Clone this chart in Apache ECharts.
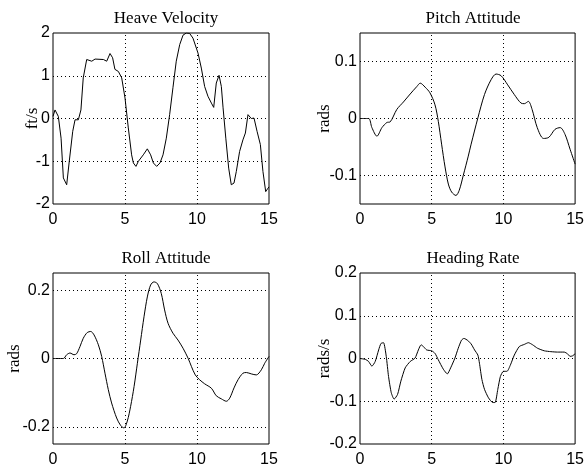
<!DOCTYPE html>
<html>
<head>
<meta charset="utf-8">
<script src="https://cdn.jsdelivr.net/npm/echarts@6/dist/echarts.min.js"></script>
<style>
  html, body { margin: 0; padding: 0; background: #fff; }
  #chart { width: 587px; height: 468px; }
</style>
</head>
<body>
<div id="chart"></div>
<script>
// time axis ticks (s)
const xTicks = [0, 5, 10, 15];

// Heave Velocity (ft/s)
const heaveT = [0, 0.14, 0.37, 0.56, 0.72, 0.95, 1.13, 1.37, 1.53, 1.76, 1.94, 2.1, 2.34, 2.69, 2.92, 3.5, 3.73, 3.96, 4.14, 4.3, 4.54, 4.77, 5.0, 5.23, 5.46, 5.58, 5.76, 5.93, 6.27, 6.55, 6.78, 6.97, 7.2, 7.43, 7.64, 7.87, 8.1, 8.33, 8.56, 8.8, 9.03, 9.26, 9.49, 9.72, 10.07, 10.3, 10.53, 10.76, 11.0, 11.16, 11.34, 11.53, 11.69, 11.81, 12.0, 12.2, 12.38, 12.57, 12.73, 12.96, 13.19, 13.36, 13.54, 13.77, 13.96, 14.17, 14.4, 14.58, 14.77, 14.93, 15];
const heaveV = [0.05, 0.2, 0.05, -0.46, -1.39, -1.55, -1.0, -0.3, -0.03, -0.03, 0.2, 0.95, 1.38, 1.34, 1.39, 1.38, 1.34, 1.52, 1.42, 1.15, 1.1, 0.95, 0.48, -0.22, -0.85, -1.04, -1.12, -1.0, -0.85, -0.71, -0.85, -1.04, -1.12, -1.04, -0.85, -0.46, 0.09, 0.72, 1.34, 1.73, 1.95, 2.0, 1.99, 1.88, 1.53, 1.18, 0.75, 0.52, 0.36, 0.26, 0.83, 1.01, 0.75, 0.25, -0.46, -1.16, -1.55, -1.51, -1.24, -0.77, -0.5, -0.34, 0.09, 0.0, 0.01, -0.3, -0.61, -1.24, -1.71, -1.63, -1.6];
const heaveTicks = [-2, -1, 0, 1, 2];

// Pitch Attitude (rads)
const pitchT = [0, 0.6, 0.83, 1.18, 1.53, 1.875, 2.1, 2.57, 3.03, 3.5, 3.96, 4.2, 4.54, 4.88, 5.23, 5.46, 5.69, 5.93, 6.16, 6.39, 6.69, 6.92, 7.2, 7.55, 7.75, 8.22, 8.68, 9.14, 9.49, 9.84, 10.3, 10.76, 11.23, 11.46, 11.74, 12.0, 12.36, 12.8, 13.17, 13.6, 13.96, 14.3, 14.65, 15];
const pitchV = [0, 0, -0.016, -0.031, -0.016, -0.007, -0.006, 0.016, 0.029, 0.043, 0.056, 0.062, 0.055, 0.045, 0.024, -0.005, -0.045, -0.085, -0.115, -0.129, -0.135, -0.126, -0.1, -0.066, -0.045, 0.001, 0.042, 0.068, 0.078, 0.075, 0.059, 0.042, 0.027, 0.026, 0.03, 0.016, -0.016, -0.035, -0.033, -0.019, -0.016, -0.028, -0.054, -0.08];
const pitchTicks = [-0.1, 0, 0.1];

// Roll Attitude (rads)
const rollT = [0, 0.72, 0.95, 1.18, 1.46, 1.64, 1.875, 2.1, 2.38, 2.62, 2.85, 3.15, 3.38, 3.61, 3.84, 4.07, 4.42, 4.7, 4.93, 5.16, 5.39, 5.63, 5.86, 6.09, 6.32, 6.55, 6.78, 7.01, 7.25, 7.52, 7.75, 7.99, 8.33, 8.68, 9.03, 9.38, 9.61, 9.88, 10.18, 10.53, 11.0, 11.34, 11.69, 12.04, 12.27, 12.57, 12.85, 13.19, 13.43, 13.77, 14.12, 14.47, 14.7, 15];
const rollV = [0, 0, 0.011, 0.016, 0.011, 0.014, 0.035, 0.059, 0.076, 0.079, 0.069, 0.04, 0.006, -0.043, -0.091, -0.13, -0.174, -0.196, -0.203, -0.183, -0.14, -0.082, -0.014, 0.054, 0.122, 0.18, 0.215, 0.224, 0.219, 0.19, 0.142, 0.103, 0.074, 0.054, 0.03, 0.001, -0.023, -0.048, -0.062, -0.074, -0.087, -0.109, -0.118, -0.125, -0.116, -0.086, -0.062, -0.043, -0.041, -0.045, -0.048, -0.033, -0.014, 0.006];
const rollTicks = [-0.2, 0, 0.2];

// Heading Rate (rads/s)
const headT = [0, 0.37, 0.6, 0.83, 1.06, 1.3, 1.46, 1.64, 1.83, 1.99, 2.18, 2.38, 2.62, 2.85, 3.15, 3.5, 3.84, 4.07, 4.26, 4.42, 4.65, 5.0, 5.23, 5.46, 5.81, 6.09, 6.32, 6.62, 6.85, 7.08, 7.25, 7.52, 7.75, 7.99, 8.22, 8.33, 8.5, 8.68, 8.96, 9.26, 9.42, 9.61, 9.79, 10.0, 10.25, 10.49, 10.76, 11.11, 11.46, 11.74, 12.04, 12.38, 12.85, 13.31, 13.77, 14.24, 14.47, 14.65, 14.81, 15];
const headV = [0, -0.002, -0.007, -0.018, -0.007, 0.02, 0.035, 0.037, 0.005, -0.042, -0.08, -0.095, -0.084, -0.053, -0.022, -0.007, 0.001, 0.02, 0.032, 0.028, 0.02, 0.018, 0.012, -0.003, -0.025, -0.036, -0.022, 0.001, 0.024, 0.043, 0.047, 0.042, 0.034, 0.02, 0.008, -0.011, -0.049, -0.072, -0.092, -0.103, -0.103, -0.072, -0.042, -0.03, -0.03, -0.015, 0.008, 0.028, 0.033, 0.037, 0.032, 0.024, 0.018, 0.016, 0.015, 0.015, 0.011, 0.005, 0.006, 0.011];
const headTicks = [-0.2, -0.1, 0, 0.1, 0.2];

// panel setup
const panels = [
  { title: 'Heave Velocity', unit: 'ft/s', t: heaveT, v: heaveV, ticks: heaveTicks, min: -2, max: 2, step: 1,
    left: 53, top: 33, width: 216, height: 171, nameGap: 12, smooth: false },
  { title: 'Pitch Attitude', unit: 'rads', t: pitchT, v: pitchV, ticks: pitchTicks, min: -0.15, max: 0.15, step: 0.05,
    left: 360, top: 33, width: 216, height: 171, nameGap: 27, smooth: 0.3 },
  { title: 'Roll Attitude', unit: 'rads', t: rollT, v: rollV, ticks: rollTicks, min: -0.25, max: 0.25, step: 0.05,
    left: 53, top: 273, width: 216, height: 173, nameGap: 30, smooth: 0.3 },
  { title: 'Heading Rate', unit: 'rads/s', t: headT, v: headV, ticks: headTicks, min: -0.2, max: 0.2, step: 0.1,
    left: 360, top: 273, width: 216, height: 173, nameGap: 27, smooth: 0.2 }
];

const serif = '"Liberation Serif", "DejaVu Serif", serif';
const sans = '"Liberation Sans", Arial, sans-serif';
const dotted = [1, 3];

let titles = [], grids = [], xAxes = [], yAxes = [], series = [];
panels.forEach((p, i) => {
  titles.push({
    text: p.title,
    left: p.left + p.width / 2,
    top: p.top - 28,
    textAlign: 'center',
    textStyle: { fontFamily: serif, fontSize: 17, fontWeight: 'normal', color: '#000' }
  });
  grids.push({
    left: p.left, top: p.top, width: p.width, height: p.height,
    show: true, borderColor: '#000', borderWidth: 1, backgroundColor: '#fff'
  });
  xAxes.push({
    type: 'value', gridIndex: i, min: 0, max: 15, interval: 5,
    axisLine: { show: false }, axisTick: { show: false },
    axisLabel: { fontFamily: sans, fontSize: 16, color: '#000', margin: 8 },
    splitLine: { show: false }
  });
  yAxes.push({
    type: 'value', gridIndex: i, min: p.min, max: p.max, interval: p.step,
    name: p.unit, nameLocation: 'middle', nameRotate: 90, nameGap: p.nameGap,
    nameMoveOverlap: false,
    nameTextStyle: { fontFamily: serif, fontSize: 17, color: '#000' },
    axisLine: { show: false }, axisTick: { show: false },
    axisLabel: {
      fontFamily: sans, fontSize: 16, color: '#000', margin: 3,
      formatter: v => p.ticks.some(t => Math.abs(t - v) < 1e-9) ? String(Math.round(v * 100) / 100) : ''
    },
    splitLine: { show: false }
  });
  const gridLines = p.ticks.filter(t => t > p.min && t < p.max).map(t => ({ yAxis: t }))
    .concat(xTicks.filter(t => t > 0 && t < 15).map(t => ({ xAxis: t })));
  series.push({
    type: 'line', xAxisIndex: i, yAxisIndex: i,
    data: p.t.map((t, k) => [t, p.v[k]]),
    symbol: 'none', smooth: p.smooth,
    lineStyle: { color: '#000', width: 1 },
    markLine: {
      silent: true, symbol: 'none', animation: false,
      label: { show: false },
      lineStyle: { color: '#000', width: 1, type: dotted },
      emphasis: { disabled: true },
      data: gridLines
    }
  });
});

const chart = echarts.init(document.getElementById('chart'));
chart.setOption({
  animation: false,
  backgroundColor: '#fff',
  title: titles,
  grid: grids,
  xAxis: xAxes,
  yAxis: yAxes,
  series: series
});
</script>
</body>
</html>
